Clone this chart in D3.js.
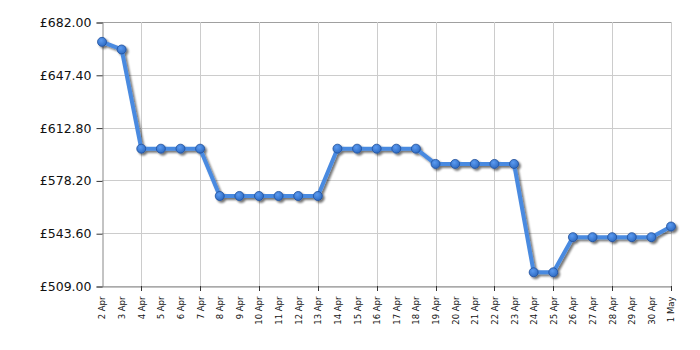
<!DOCTYPE html>
<html>
<head>
<meta charset="utf-8">
<script src="https://cdn.jsdelivr.net/npm/d3@7"></script>
<style>
  body { margin: 0; background: #fff; }
  svg { display: block; font-family: "DejaVu Sans", Verdana, sans-serif; }
</style>
</head>
<body>
<div id="chart"></div>
<script>
// Price history data
const dates = ["2 Apr", "3 Apr", "4 Apr", "5 Apr", "6 Apr", "7 Apr", "8 Apr", "9 Apr", "10 Apr",
  "11 Apr", "12 Apr", "13 Apr", "14 Apr", "15 Apr", "16 Apr", "17 Apr", "18 Apr", "19 Apr",
  "20 Apr", "21 Apr", "22 Apr", "23 Apr", "24 Apr", "25 Apr", "26 Apr", "27 Apr", "28 Apr",
  "29 Apr", "30 Apr", "1 May"];
const prices = [669, 664, 599, 599, 599, 599, 568, 568, 568, 568, 568, 568, 599, 599, 599, 599, 599,
  589, 589, 589, 589, 589, 518, 518, 541, 541, 541, 541, 541, 548];
const yTicks = [509.00, 543.60, 578.20, 612.80, 647.40, 682.00];
const gridDates = ["4 Apr", "7 Apr", "10 Apr", "13 Apr", "16 Apr", "19 Apr", "22 Apr", "25 Apr", "28 Apr", "1 May"];

const width = 700, height = 350;
const plotLeft = 102, plotRight = 671, plotTop = 22, plotBottom = 286;

const svg = d3.select("#chart").append("svg")
  .attr("width", width)
  .attr("height", height);

const x = d3.scalePoint().domain(dates).range([plotLeft, plotRight]);
const y = d3.scaleLinear().domain([509, 682]).range([plotBottom, plotTop]);

// drop shadow for the series
const defs = svg.append("defs");
const f = defs.append("filter").attr("id", "shadow")
  .attr("x", "-10%").attr("y", "-10%").attr("width", "120%").attr("height", "130%");
f.append("feGaussianBlur").attr("in", "SourceAlpha").attr("stdDeviation", 1.2).attr("result", "b");
f.append("feOffset").attr("in", "b").attr("dx", 2).attr("dy", 2).attr("result", "o");
f.append("feComponentTransfer").attr("in", "o").attr("result", "o2")
  .append("feFuncA").attr("type", "linear").attr("slope", 0.55);
const m = f.append("feMerge");
m.append("feMergeNode").attr("in", "o2");
m.append("feMergeNode").attr("in", "SourceGraphic");

const grad = defs.append("radialGradient").attr("id", "dot")
  .attr("cx", "40%").attr("cy", "35%").attr("r", "65%");
grad.append("stop").attr("offset", "0%").attr("stop-color", "#5b9af0");
grad.append("stop").attr("offset", "100%").attr("stop-color", "#2f6cc4");

// horizontal grid
svg.append("g")
  .selectAll("line")
  .data(yTicks)
  .join("line")
  .attr("x1", plotLeft).attr("x2", plotRight)
  .attr("y1", d => Math.round(y(d)) + 0.5).attr("y2", d => Math.round(y(d)) + 0.5)
  .attr("stroke", d => d === 682 ? "#a0a0a0" : "#cccccc");

// vertical grid
svg.append("g")
  .selectAll("line")
  .data(gridDates)
  .join("line")
  .attr("x1", d => Math.round(x(d)) + 0.5).attr("x2", d => Math.round(x(d)) + 0.5)
  .attr("y1", plotTop).attr("y2", plotBottom)
  .attr("stroke", "#cccccc");

// y axis
const yAxis = d3.axisLeft(y)
  .tickValues(yTicks)
  .tickSize(6)
  .tickPadding(5)
  .tickFormat(d => "£" + d.toFixed(2));
const gy = svg.append("g")
  .attr("transform", `translate(${plotLeft + 0.5},0.5)`)
  .call(yAxis);
gy.select(".domain").attr("stroke", "#888");
gy.selectAll(".tick line").attr("stroke", "#333");
gy.selectAll(".tick text")
  .attr("fill", "#111")
  .style("font-size", "12.5px")
  .style("font-family", "'DejaVu Sans', Verdana, sans-serif");

// x axis
const xAxis = d3.axisBottom(x)
  .tickSize(0)
  .tickPadding(0);
const gx = svg.append("g")
  .attr("transform", `translate(0,${plotBottom + 0.5})`)
  .call(xAxis);
gx.select(".domain").attr("stroke", "#888");
gx.selectAll(".tick text")
  .attr("transform", "rotate(-90)")
  .attr("x", -10)
  .attr("y", 0)
  .attr("dy", "0.35em")
  .attr("text-anchor", "end")
  .attr("fill", "#111")
  .style("font-size", "8.5px")
  .style("font-family", "'DejaVu Sans', Verdana, sans-serif");

// major ticks at grid dates
svg.append("g")
  .selectAll("line")
  .data(gridDates)
  .join("line")
  .attr("x1", d => Math.round(x(d)) + 0.5).attr("x2", d => Math.round(x(d)) + 0.5)
  .attr("y1", plotBottom).attr("y2", plotBottom + 5)
  .attr("stroke", "#333");

// series
const pts = dates.map((d, i) => [d, prices[i]]);
const series = svg.append("g").attr("filter", "url(#shadow)");
series.append("path")
  .datum(pts)
  .attr("d", d3.line().x(d => x(d[0])).y(d => y(d[1])))
  .attr("fill", "none")
  .attr("stroke", "#4a8ae0")
  .attr("stroke-width", 4)
  .attr("stroke-linejoin", "round");
series.selectAll("circle")
  .data(pts)
  .join("circle")
  .attr("cx", d => x(d[0]))
  .attr("cy", d => y(d[1]))
  .attr("r", 4.5)
  .attr("fill", "url(#dot)")
  .attr("stroke", "#1f4f9a")
  .attr("stroke-width", 0.8);
</script>
</body>
</html>
